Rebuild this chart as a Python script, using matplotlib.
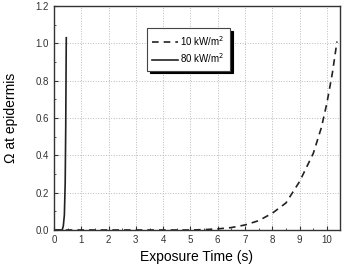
import matplotlib
matplotlib.use('Agg')
import matplotlib.pyplot as plt
from matplotlib.ticker import MultipleLocator

plt.rcParams['font.family'] = ['Liberation Sans', 'DejaVu Sans']

# 10 kW/m2 curve
t_10 = [0.0, 4.5, 5.0, 5.5, 6.0, 6.5, 7.0, 7.5, 8.0, 8.5, 9.0, 9.5, 9.8, 10.0, 10.2, 10.37]
omega_10 = [0.0, 0.0, 0.0, 0.002, 0.006, 0.013, 0.027, 0.05, 0.09, 0.145, 0.26, 0.41, 0.55, 0.68, 0.84, 1.01]

# 80 kW/m2 curve
t_80 = [0.0, 0.30, 0.34, 0.38, 0.41, 0.43, 0.44, 0.45]
omega_80 = [0.0, 0.0, 0.02, 0.08, 0.25, 0.55, 0.8, 1.03]

fig = plt.figure(figsize=(3.44, 2.64), dpi=100)
ax = fig.add_axes([54 / 344, 1 - 230 / 264, 286 / 344, 224 / 264])

ax.plot(t_10, omega_10, color='#222222', lw=1.2, ls=(0, (4, 3)), label='10 kW/m$^2$')
ax.plot(t_80, omega_80, color='#222222', lw=1.2, label='80 kW/m$^2$')

ax.set_xlim(0, 10.48)
ax.set_ylim(0, 1.2)
ax.xaxis.set_major_locator(MultipleLocator(1))
ax.xaxis.set_minor_locator(MultipleLocator(0.5))
ax.yaxis.set_major_locator(MultipleLocator(0.2))
ax.yaxis.set_minor_locator(MultipleLocator(0.1))
ax.grid(True, which='major', color='#bbbbbb', ls=':', lw=0.7)
ax.tick_params(which='both', direction='in', labelsize=7, colors='#333333',
               top=False, right=False)
ax.tick_params(which='major', length=3)
ax.tick_params(which='minor', length=1.5)
for s in ax.spines.values():
    s.set_linewidth(1.0)
    s.set_color('#333333')

ax.set_xlabel('Exposure Time (s)', fontsize=10, labelpad=4)
ax.set_ylabel('Ω at epidermis', fontsize=10, labelpad=13)

leg = ax.legend(loc='upper center', bbox_to_anchor=(0.47, 0.9), fontsize=7,
                frameon=True, fancybox=False, edgecolor='#444444',
                shadow={'color': 'black', 'alpha': 1.0},
                handlelength=2.6, handletextpad=0.3, borderpad=0.55,
                labelspacing=0.4, borderaxespad=0)
leg.get_frame().set_linewidth(0.8)

fig.savefig('out.png', dpi=100)
